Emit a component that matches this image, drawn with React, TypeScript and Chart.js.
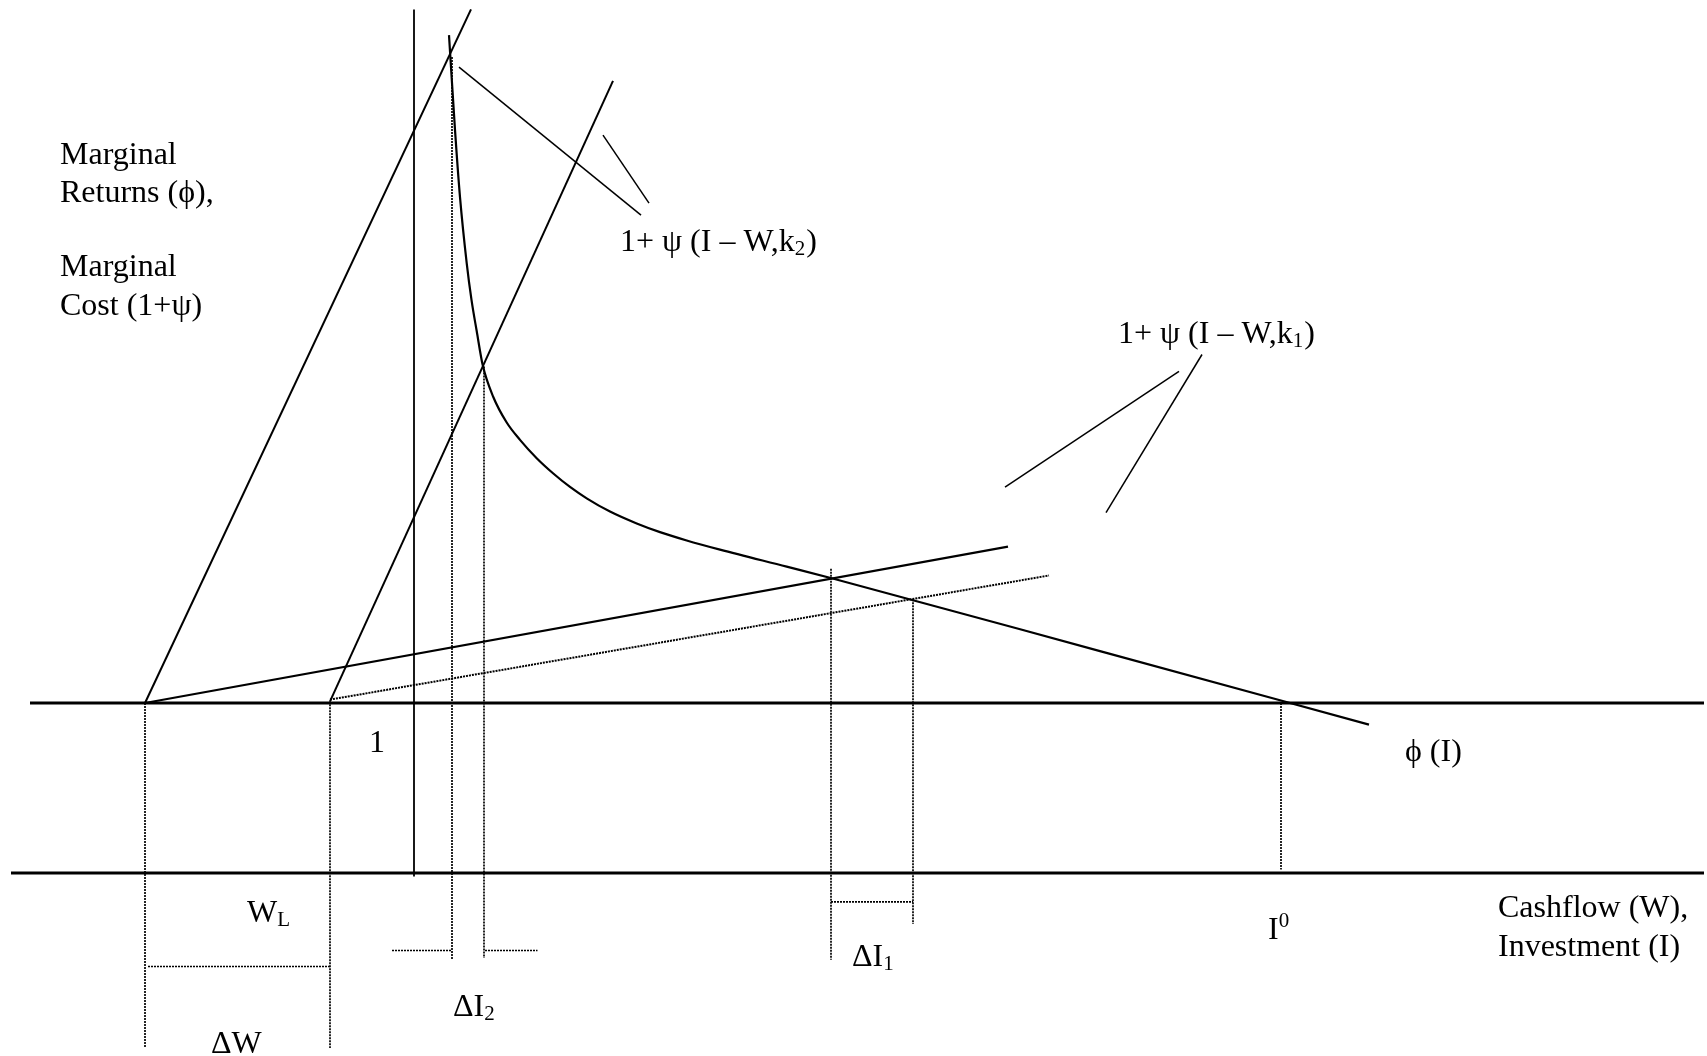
import React, { useEffect, useRef } from "react";
import { Chart, registerables } from "chart.js";

Chart.register(...registerables);

type P = { x: number; y: number };
type Part = { t: string; s?: "sub" | "sup" };
type Label = { x: number; y: number; parts: Part[] };

// Diagram units: x = cashflow / investment, y = marginal returns / marginal cost (1 = unit cost level)
const X_MIN = -4.14;
const X_MAX = 12.93;
const Y_MIN = -1.0765;
const Y_MAX = 5.1353;

// Axes
const investmentAxis: P[] = [{ x: -4.03, y: 0 }, { x: 12.9, y: 0 }];
const unitCostLine: P[] = [{ x: -3.84, y: 1 }, { x: 12.9, y: 1 }];
const returnsAxis: P[] = [{ x: 0, y: -0.02 }, { x: 0, y: 5.08 }];

// Marginal returns phi(I)
const phiX = [0.35, 0.41, 0.46, 0.527, 0.575, 0.627, 0.687, 0.793, 0.927, 1.06, 1.227, 1.393, 1.56, 1.727, 1.96, 2.227, 2.46, 2.727, 3.06, 3.727, 4.177, 6.86, 9.55];
const phiY = [4.929, 4.371, 3.976, 3.588, 3.371, 3.188, 2.988, 2.8, 2.65, 2.548, 2.44, 2.35, 2.271, 2.204, 2.126, 2.056, 2.005, 1.956, 1.902, 1.802, 1.734, 1.305, 0.873];

// Marginal cost curves 1 + psi(I - W, k)
const psiK2Low: P[] = [{ x: -2.69, y: 1.0 }, { x: 0.57, y: 5.08 }];
const psiK2High: P[] = [{ x: -0.84, y: 1.01 }, { x: 1.99, y: 4.66 }];
const psiK1Low: P[] = [{ x: -2.69, y: 1.0 }, { x: 5.94, y: 1.92 }];
const psiK1High: P[] = [{ x: -0.84, y: 1.02 }, { x: 6.35, y: 1.75 }];

// Dotted guide lines
const guides: P[][] = [
  [{ x: 0.38, y: 4.8 }, { x: 0.38, y: -0.51 }],
  [{ x: 0.7, y: 2.98 }, { x: 0.7, y: -0.5 }],
  [{ x: -0.22, y: -0.456 }, { x: 0.38, y: -0.456 }],
  [{ x: 0.71, y: -0.456 }, { x: 1.235, y: -0.456 }],
  [{ x: -2.69, y: 1.0 }, { x: -2.69, y: -1.03 }],
  [{ x: -0.84, y: 1.01 }, { x: -0.84, y: -1.03 }],
  [{ x: -2.66, y: -0.55 }, { x: -0.84, y: -0.55 }],
  [{ x: 4.17, y: 1.79 }, { x: 4.17, y: -0.51 }],
  [{ x: 4.99, y: 1.61 }, { x: 4.99, y: -0.3 }],
  [{ x: 4.17, y: -0.17 }, { x: 4.99, y: -0.17 }],
  [{ x: 8.67, y: 1.0 }, { x: 8.67, y: 0.02 }],
];

// Leader lines from labels to curves
const leaders: P[][] = [
  [{ x: 0.45, y: 4.74 }, { x: 2.27, y: 3.87 }],
  [{ x: 1.89, y: 4.34 }, { x: 2.35, y: 3.94 }],
  [{ x: 7.65, y: 2.95 }, { x: 5.91, y: 2.27 }],
  [{ x: 7.88, y: 3.05 }, { x: 6.92, y: 2.12 }],
];

const textLabels: Label[] = [
  { x: -3.54, y: 4.17, parts: [{ t: "Marginal" }] },
  { x: -3.54, y: 3.945, parts: [{ t: "Returns (ϕ)," }] },
  { x: -3.54, y: 3.51, parts: [{ t: "Marginal" }] },
  { x: -3.54, y: 3.285, parts: [{ t: "Cost (1+ψ)" }] },
  { x: 2.06, y: 3.66, parts: [{ t: "1+ ψ (I – W,k" }, { t: "2", s: "sub" }, { t: ")" }] },
  { x: 7.04, y: 3.12, parts: [{ t: "1+ ψ (I – W,k" }, { t: "1", s: "sub" }, { t: ")" }] },
  { x: -0.45, y: 0.71, parts: [{ t: "1" }] },
  { x: 9.91, y: 0.66, parts: [{ t: "ϕ (I)" }] },
  { x: -1.67, y: -0.29, parts: [{ t: "W" }, { t: "L", s: "sub" }] },
  { x: 8.54, y: -0.39, parts: [{ t: "I" }, { t: "0", s: "sup" }] },
  { x: 10.84, y: -0.26, parts: [{ t: "Cashflow (W)," }] },
  { x: 10.84, y: -0.49, parts: [{ t: "Investment (I)" }] },
  { x: 4.38, y: -0.55, parts: [{ t: "ΔI" }, { t: "1", s: "sub" }] },
  { x: 0.39, y: -0.84, parts: [{ t: "ΔI" }, { t: "2", s: "sub" }] },
  { x: -2.03, y: -1.06, parts: [{ t: "ΔW" }] },
];

const FONT = '"Liberation Serif", "Times New Roman", "DejaVu Serif", serif';

const labelPlugin = {
  id: "diagramLabels",
  afterDatasetsDraw(chart: any) {
    const { ctx } = chart;
    const xs = chart.scales.x;
    const ys = chart.scales.y;
    ctx.save();
    ctx.fillStyle = "#000";
    ctx.textBaseline = "alphabetic";
    ctx.textAlign = "left";
    for (const lab of textLabels) {
      let px = xs.getPixelForValue(lab.x);
      const py = ys.getPixelForValue(lab.y);
      for (const part of lab.parts) {
        const size = part.s ? 21 : 32;
        const dy = part.s === "sub" ? 4 : part.s === "sup" ? -12 : 0;
        ctx.font = `${size}px ${FONT}`;
        ctx.fillText(part.t, px, py + dy);
        px += ctx.measureText(part.t).width + (part.s ? 1 : 0);
      }
    }
    ctx.restore();
  },
};

function line(data: P[], width: number, dash: number[] = []) {
  return {
    data,
    showLine: true,
    borderColor: "#000",
    backgroundColor: "#000",
    borderWidth: width,
    borderDash: dash,
    pointRadius: 0,
    pointHoverRadius: 0,
    fill: false,
    tension: 0,
  };
}

export default function App() {
  const ref = useRef<HTMLCanvasElement | null>(null);

  useEffect(() => {
    if (!ref.current) return;
    const phiData: P[] = phiX.map((x, i) => ({ x, y: phiY[i] }));
    const datasets: any[] = [
      line(investmentAxis, 3),
      line(unitCostLine, 3),
      line(returnsAxis, 1.8),
      { ...line(phiData, 2.2), cubicInterpolationMode: "monotone" },
      line(psiK2Low, 2),
      line(psiK2High, 2),
      line(psiK1Low, 2.2),
      line(psiK1High, 2, [2, 1]),
      ...guides.map((g) => line(g, 1.7, [2, 1])),
      ...leaders.map((g) => line(g, 1.5)),
    ];
    const chart = new Chart(ref.current, {
      type: "scatter",
      data: { datasets },
      options: {
        animation: false,
        responsive: false,
        devicePixelRatio: 1,
        layout: { padding: 0 },
        plugins: { legend: { display: false }, tooltip: { enabled: false } },
        events: [],
        scales: {
          x: { type: "linear", min: X_MIN, max: X_MAX, display: false },
          y: { type: "linear", min: Y_MIN, max: Y_MAX, display: false },
        },
      },
      plugins: [labelPlugin],
    } as any);
    return () => chart.destroy();
  }, []);

  return (
    <canvas
      ref={ref}
      width={1707}
      height={1056}
      style={{ position: "absolute", left: 0, top: 0, background: "#fff" }}
    />
  );
}
